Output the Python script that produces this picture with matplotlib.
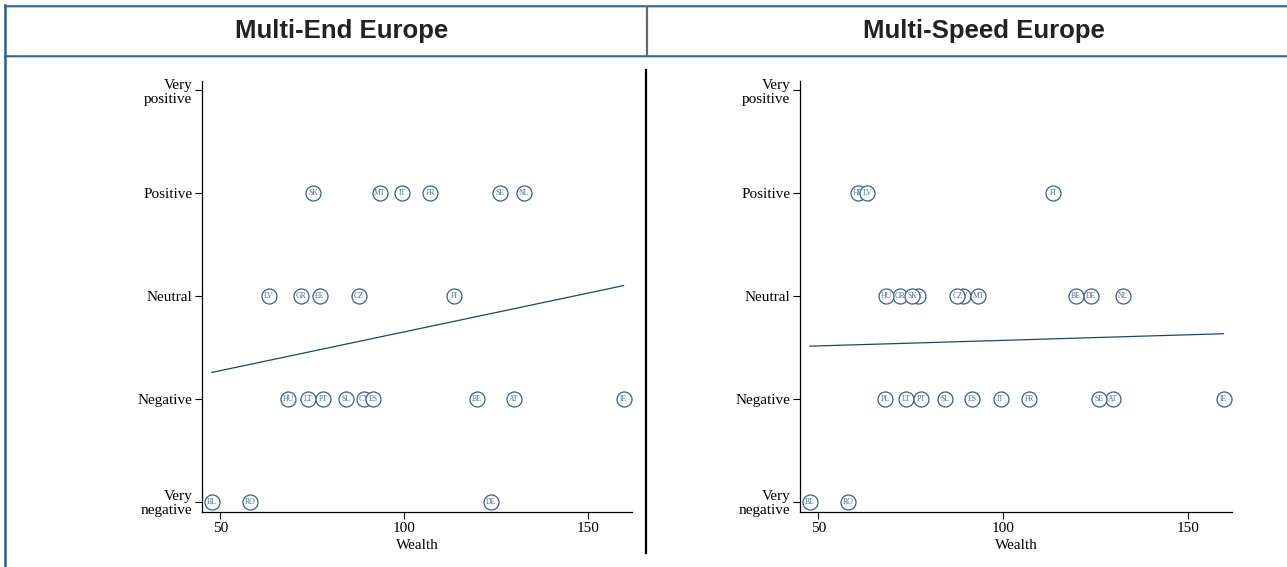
import matplotlib
matplotlib.use("Agg")
from matplotlib import pyplot as plt
from matplotlib.lines import Line2D
import numpy as np

# countries in alphabetical order of their English names (draw order)
countries = ["AT", "BE", "BL", "HR", "CY", "CZ", "EE", "FI", "FR", "DE", "GR", "HU",
             "IE", "IT", "LV", "LT", "MT", "NL", "PL", "PT", "RO", "SK", "SL", "ES", "SE"]
wealth = [129.8, 119.8, 47.7, 60.8, 89.1, 87.6, 77.0, 113.6, 107.1, 123.7, 72.0, 68.4,
          159.7, 99.4, 63.2, 73.8, 93.3, 132.5, 68.0, 77.9, 58.0, 75.3, 84.3, 91.6, 126.0]

# 1 = very negative ... 5 = very positive, None = no answer
multi_end = [2, 2, 1, None, 2, 3, 3, 3, 4, 1, 3, 2,
             2, 4, 3, 2, 4, 4, None, 2, 1, 4, 2, 2, 4]
multi_speed = [2, 3, 1, 4, 3, 3, 3, 4, 2, 3, 3, 3,
               2, 2, 4, 2, 3, 3, 2, 2, 1, 3, 2, 2, 2]

levels = [1, 2, 3, 4, 5]
level_labels = ["Very\nnegative", "Negative", "Neutral", "Positive", "Very\npositive"]
x_ticks = [50, 100, 150]
panel_titles = ["Multi-End Europe", "Multi-Speed Europe"]

navy = "#1a476f"
serif = ["Liberation Serif", "DejaVu Serif"]

fig = plt.figure(figsize=(12.87, 5.67), dpi=100)
W, H = 1287, 567


def fx(px):
    return px / W


def fy(py):
    return 1 - py / H


# header band
hdr = "#2a5f94"
for y, c, lw in [(5.5, hdr, 1.8), (7.2, "#b7cde3", 0.8), (55.5, hdr, 1.8), (57.2, "#b7cde3", 0.8)]:
    fig.add_artist(Line2D([fx(5), 1], [fy(y), fy(y)], color=c, lw=lw))
fig.add_artist(Line2D([fx(5), fx(5)], [fy(5), 0], color=hdr, lw=1.8))
fig.add_artist(Line2D([fx(647), fx(647)], [fy(6.5), fy(54.5)], color="#666666", lw=1.6))
fig.add_artist(Line2D([fx(646), fx(646)], [fy(70), fy(553)], color="black", lw=1.6))

fig.text(fx(342), fy(31), panel_titles[0], ha="center", va="center",
         fontsize=18.5, fontweight="bold", family="Liberation Sans", color="#222222")
fig.text(fx(984), fy(31), panel_titles[1], ha="center", va="center",
         fontsize=18.5, fontweight="bold", family="Liberation Sans", color="#222222")

ax_boxes = [(202, 632), (800, 1232)]

for (left, right), answers in zip(ax_boxes, [multi_end, multi_speed]):
    ax = fig.add_axes([fx(left), fy(512), fx(right - left), (512 - 81) / H])
    xs = np.array([w for w, a in zip(wealth, answers) if a is not None])
    ys = np.array([a for a in answers if a is not None])
    names = [c for c, a in zip(countries, answers) if a is not None]

    # linear fit over the observed range
    k, b = np.polyfit(xs, ys, 1)
    xl = np.array([xs.min(), xs.max()])
    ax.plot(xl, k * xl + b, color=navy, lw=0.9, zorder=2)

    for i, (x, y, n) in enumerate(zip(xs, ys, names)):
        ax.plot(x, y, "o", ms=10.8, mfc="white", mec="#34618a", mew=0.9,
                zorder=3 + 2 * i, clip_on=False)
        ax.text(x, y, n, ha="center", va="center", fontsize=5.6, family=serif,
                color="#4b6f8f", zorder=4 + 2 * i)

    ax.set_xlim(45, 162)
    ax.set_ylim(0.9, 5.09)
    ax.set_xticks(x_ticks)
    ax.set_xticklabels([str(t) for t in x_ticks], family=serif, fontsize=11)
    ax.set_yticks(levels)
    ax.set_yticklabels(level_labels, family=serif, fontsize=11, linespacing=1.1)
    ax.tick_params(length=5, width=0.8, pad=2)
    ax.set_xlabel("Wealth", family=serif, fontsize=11, labelpad=3)
    for s in ["top", "right"]:
        ax.spines[s].set_visible(False)
    for s in ["left", "bottom"]:
        ax.spines[s].set_linewidth(0.9)
    ax.patch.set_alpha(0)

fig.savefig("out.png", dpi=100)
